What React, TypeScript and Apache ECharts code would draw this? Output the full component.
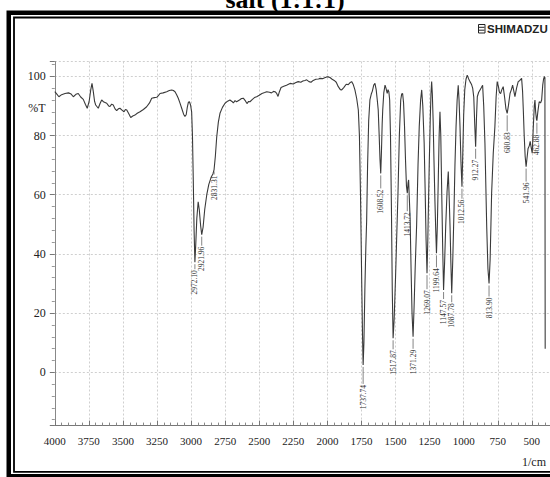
import { useEffect, useRef } from "react";
import * as echarts from "echarts";

// IR spectrum: wavenumber (1/cm) and transmittance (%T)
const wavenumbers = [
  4000, 3985, 3970, 3950, 3925, 3900, 3880, 3864, 3845, 3828, 3810, 3791, 3775, 3762, 3748, 3736, 3727, 3718, 3708, 3700,
  3681, 3668, 3656, 3640, 3619, 3605, 3595, 3583, 3571, 3558, 3546, 3534, 3522, 3507, 3492, 3482, 3472, 3458, 3443, 3428,
  3412, 3395, 3375, 3350, 3326, 3305, 3289, 3270, 3252, 3240, 3228, 3205, 3179, 3160, 3142, 3130, 3118, 3106, 3094, 3082,
  3069, 3055, 3045, 3036, 3028, 3020, 3012, 3004, 2996, 2990, 2984, 2978, 2972.1, 2966, 2958, 2948, 2940, 2930, 2921.96, 2912,
  2900, 2885, 2870, 2852, 2840, 2831.31, 2822, 2812, 2800, 2788, 2770, 2751, 2732, 2715, 2700, 2690, 2678, 2666, 2645, 2630,
  2617, 2600, 2590, 2578, 2568, 2550, 2535, 2519, 2500, 2480, 2460, 2445, 2425, 2410, 2395, 2384, 2372, 2362, 2352, 2340,
  2320, 2300, 2274, 2250, 2235, 2214, 2195, 2180, 2165, 2152, 2135, 2120, 2104, 2085, 2065, 2054, 2035, 2020, 2005, 1995,
  1981, 1965, 1950, 1935, 1920, 1905, 1895, 1880, 1862, 1847, 1835, 1822, 1810, 1798, 1785, 1773, 1765, 1757, 1748, 1742,
  1737.74, 1732, 1725, 1718, 1712, 1705, 1697, 1688, 1678, 1670, 1660, 1651, 1642, 1634, 1627, 1620, 1614, 1608.52, 1603, 1598,
  1594, 1586, 1577, 1570, 1561, 1555, 1549, 1543, 1537, 1530, 1524, 1517.87, 1510, 1500, 1490, 1482, 1472, 1462, 1455, 1448,
  1441, 1434, 1427, 1420, 1413.72, 1408, 1404, 1399, 1393, 1386, 1379, 1371.29, 1364, 1356, 1345, 1335, 1326, 1316, 1308, 1300,
  1290, 1282, 1276, 1269.07, 1263, 1257, 1252, 1245, 1240, 1235, 1230, 1224, 1218, 1211, 1205, 1199.64, 1193, 1186, 1180, 1174,
  1168, 1161, 1154, 1147.57, 1140, 1132, 1122, 1113, 1107, 1100, 1094, 1087.78, 1080, 1071, 1064, 1056, 1048, 1040, 1034, 1027,
  1020, 1012.56, 1006, 1000, 992, 983, 974, 964, 954, 942, 934, 926, 919, 912.27, 906, 900, 890, 880, 870, 861,
  853, 844, 837, 831, 822, 813.9, 806, 800, 795, 783, 771, 762, 754, 745, 737, 729, 720, 710, 700, 690,
  680.83, 672, 660, 650, 641, 632, 624, 612, 600, 588, 575, 568, 562, 556, 549, 541.96, 535, 528, 519, 512,
  505, 497, 490, 482, 477, 472, 466, 462.88, 456, 446, 436, 428, 420, 414, 408, 404, 402,
];
const transmittance = [
  94.8, 94.0, 93.1, 93.8, 94.2, 94.4, 94.0, 93.1, 93.9, 94.2, 93.0, 92.2, 90.5, 89.2, 91.5, 95.5, 97.6, 95.0, 91.5, 90.3,
  89.2, 90.8, 92.0, 91.3, 90.9, 90.0, 89.8, 90.6, 90.3, 89.0, 88.4, 89.0, 89.2, 88.6, 88.0, 88.8, 88.6, 87.4, 86.1, 86.6,
  86.9, 87.5, 88.0, 88.8, 89.7, 91.0, 92.6, 92.8, 92.9, 93.5, 94.2, 94.4, 94.8, 95.2, 95.4, 95.2, 94.8, 93.8, 92.6, 91.0,
  89.2, 87.2, 86.4, 87.0, 89.5, 91.2, 91.4, 90.3, 88.0, 80.0, 65.0, 48.0, 37.2, 43.0, 52.0, 57.6, 55.0, 49.5, 46.5, 49.0,
  55.0, 60.0, 63.5, 66.0, 67.0, 68.5, 73.0, 79.5, 84.5, 87.5, 89.5, 90.9, 91.6, 92.0, 91.5, 91.0, 91.8, 91.4, 92.0, 92.5,
  92.6, 91.6, 90.8, 91.5, 91.4, 92.2, 92.8, 93.1, 93.6, 94.2, 94.5, 94.8, 94.6, 94.4, 94.9, 94.8, 94.2, 93.2, 94.8, 96.2,
  96.6, 97.0, 97.6, 97.4, 97.8, 98.2, 98.0, 98.4, 98.6, 98.8, 98.2, 98.0, 98.6, 99.0, 99.1, 99.3, 99.2, 99.5, 99.8, 99.8,
  99.6, 99.0, 98.6, 98.0, 96.5, 95.5, 95.4, 96.2, 97.3, 97.2, 97.8, 98.2, 97.2, 95.4, 92.5, 88.6, 80.0, 60.0, 30.0, 12.0,
  2.5, 10.0, 28.0, 42.0, 51.0, 70.0, 85.0, 92.0, 94.0, 95.0, 97.0, 97.6, 95.5, 92.0, 88.6, 80.0, 72.0, 67.2, 75.0, 84.0,
  88.6, 94.5, 97.0, 96.0, 94.2, 95.5, 94.8, 92.0, 80.0, 55.0, 28.0, 11.5, 18.0, 32.0, 48.0, 60.5, 80.0, 92.0, 94.0, 94.2,
  91.0, 83.0, 72.0, 63.0, 60.5, 64.0, 65.0, 59.0, 52.0, 35.0, 20.0, 12.0, 22.0, 35.0, 50.0, 70.0, 83.0, 92.0, 95.4, 90.0,
  77.5, 60.0, 45.0, 33.5, 45.0, 60.0, 71.7, 86.0, 94.0, 98.2, 94.0, 85.0, 71.7, 58.0, 48.0, 40.2, 50.0, 66.0, 80.0, 88.0,
  80.0, 60.5, 42.0, 27.8, 37.0, 49.2, 61.0, 67.8, 60.0, 49.2, 37.0, 26.7, 38.0, 54.8, 70.0, 83.0, 92.0, 97.0, 92.0, 83.0,
  71.0, 62.7, 75.0, 87.0, 95.5, 99.0, 100.4, 99.2, 98.2, 97.2, 96.0, 93.0, 84.0, 76.2, 86.0, 93.1, 94.6, 95.4, 96.2, 97.0,
  90.0, 77.4, 62.0, 49.2, 35.0, 30.0, 38.0, 50.0, 60.5, 74.0, 83.0, 93.0, 98.2, 96.5, 94.5, 94.2, 95.5, 96.5, 93.0, 89.0,
  87.5, 90.0, 94.2, 95.5, 97.0, 95.0, 93.1, 96.0, 98.2, 98.6, 99.3, 95.0, 88.0, 80.0, 73.0, 69.5, 72.5, 75.5, 76.5, 78.0,
  76.0, 74.0, 82.0, 90.0, 92.0, 88.0, 85.5, 85.0, 88.0, 91.4, 91.0, 92.0, 97.0, 99.0, 99.9, 99.5, 8.0,
];

// labelled peaks
const peakWavenumbers = [2972.1, 2921.96, 2831.31, 1737.74, 1608.52, 1517.87, 1413.72, 1371.29, 1269.07, 1199.64, 1147.57, 1087.78, 1012.56, 912.27, 813.9, 680.83, 541.96, 462.88];
const peakTransmittance = [37.2, 46.5, 68.5, 2.5, 67.2, 11.5, 60.5, 12.0, 33.5, 40.2, 27.8, 26.7, 62.7, 76.2, 30.0, 87.5, 69.5, 85.0];
const peakLabels = ["2972.10", "2921.96", "2831.31", "1737.74", "1608.52", "1517.87", "1413.72", "1371.29", "1269.07", "1199.64", "1147.57", "1087.78", "1012.56", "912.27", "813.90", "680.83", "541.96", "462.88"];
// layout: pixel gap between each minimum and its label
const peakLabelGaps = [8, 12, 6, 20, 16, 12, 19, 13, 17, 15, 10, 10, 13, 13, 14, 19, 16, 14];

const xTickLabels = [4000, 3750, 3500, 3250, 3000, 2750, 2500, 2250, 2000, 1750, 1500, 1250, 1000, 750, 500];
const yTickLabels = [0, 20, 40, 60, 80, 100];

const SERIF = '"Liberation Serif", "DejaVu Serif", serif';

export default function App() {
  const ref = useRef<HTMLDivElement>(null);

  useEffect(() => {
    if (!ref.current) return;
    const chart = echarts.init(ref.current, undefined, { renderer: "svg" });

    const spectrum = wavenumbers.map((w, i) => [w, transmittance[i]]);
    const peaks = peakWavenumbers.map((w, i) => [w, peakTransmittance[i], peakLabelGaps[i], i]);

    chart.setOption({
      animation: false,
      backgroundColor: "#ffffff",
      grid: {
        left: 54.8,
        top: 61.5,
        width: 511.1,
        height: 364.1,
        containLabel: false,
        outerBoundsMode: "none",
      },
      xAxis: {
        type: "value",
        inverse: true,
        min: 250,
        max: 4000,
        interval: 250,
        axisLine: { onZero: false, lineStyle: { color: "#777", width: 1 } },
        axisTick: { inside: true, length: 5, lineStyle: { color: "#777" } },
        minorTick: { show: true, splitNumber: 5, length: 3, lineStyle: { color: "#888" } },
        splitLine: { show: true, lineStyle: { color: "#cfcfcf", type: [2, 2], width: 1 } },
        axisLabel: {
          margin: 10,
          color: "#222",
          fontFamily: SERIF,
          fontSize: 11,
          formatter: (v: number) => (xTickLabels.includes(v) ? String(v) : ""),
        },
      },
      yAxis: {
        type: "value",
        min: -18,
        max: 105,
        splitNumber: 6,
        axisLine: { show: true, onZero: false, lineStyle: { color: "#888", width: 1 } },
        axisTick: { show: true, inside: false, length: 5, lineStyle: { color: "#777" } },
        minorTick: { show: true, splitNumber: 5, length: 3, lineStyle: { color: "#999" } },
        splitLine: { show: true, lineStyle: { color: "#cfcfcf", type: [2, 2], width: 1 } },
        axisLabel: {
          margin: 9,
          color: "#222",
          fontFamily: SERIF,
          fontSize: 12,
          formatter: (v: number) => (yTickLabels.includes(v) ? String(v) : ""),
        },
      },
      series: [
        {
          type: "line",
          data: spectrum,
          showSymbol: false,
          symbol: "none",
          silent: true,
          lineStyle: { color: "#3a3a3a", width: 1.1 },
          z: 3,
        },
        {
          type: "custom",
          data: peaks,
          silent: true,
          z: 4,
          renderItem: (_params: any, api: any) => {
            const p = api.coord([api.value(0), api.value(1)]);
            const gap = api.value(2) as number;
            const idx = api.value(3) as number;
            return {
              type: "group",
              children: [
                {
                  type: "line",
                  shape: { x1: p[0], y1: p[1] + 2, x2: p[0], y2: p[1] + gap - 1 },
                  style: { stroke: "#666", lineWidth: 0.8 },
                },
                {
                  type: "text",
                  x: p[0],
                  y: p[1] + gap,
                  rotation: Math.PI / 2,
                  style: {
                    text: peakLabels[idx],
                    align: "right",
                    verticalAlign: "middle",
                    font: `7.5px ${SERIF}`,
                    fill: "#333",
                  },
                },
              ],
            };
          },
        },
      ],
      graphic: [
        {
          type: "text",
          x: 285,
          y: -1,
          style: {
            text: "salt (1:1:1)",
            font: `bold 26px ${SERIF}`,
            fill: "#000",
            align: "center",
            verticalAlign: "middle",
          },
        },
        {
          type: "rect",
          shape: { x: 8.75, y: 12.85, width: 600, height: 463.5 },
          style: { fill: "none", stroke: "#000", lineWidth: 4.5 },
        },
        {
          type: "rect",
          shape: { x: 14, y: 17.5, width: 600, height: 454.3 },
          style: { fill: "none", stroke: "#000", lineWidth: 1.8 },
        },
        {
          type: "rect",
          shape: { x: 478.5, y: 24.5, width: 6.5, height: 8.5 },
          style: { fill: "none", stroke: "#222", lineWidth: 1 },
        },
        {
          type: "line",
          shape: { x1: 479, y1: 27.3, x2: 484.5, y2: 27.3 },
          style: { stroke: "#222", lineWidth: 1 },
        },
        {
          type: "line",
          shape: { x1: 479, y1: 30.2, x2: 484.5, y2: 30.2 },
          style: { stroke: "#222", lineWidth: 1 },
        },
        {
          type: "text",
          x: 487,
          y: 29,
          style: {
            text: "SHIMADZU",
            font: 'bold 11.5px "Liberation Sans", Arial, sans-serif',
            fill: "#222",
            align: "left",
            verticalAlign: "middle",
          },
        },
        {
          type: "text",
          x: 45.5,
          y: 107.5,
          style: {
            text: "%T",
            font: `12px ${SERIF}`,
            fill: "#222",
            align: "right",
            verticalAlign: "middle",
          },
        },
        {
          type: "text",
          x: 546,
          y: 462,
          style: {
            text: "1/cm",
            font: `12px ${SERIF}`,
            fill: "#222",
            align: "right",
            verticalAlign: "middle",
          },
        },
      ],
    });

    return () => {
      chart.dispose();
    };
  }, []);

  return (
    <div
      ref={ref}
      style={{ position: "absolute", left: 0, top: 0, width: 550, height: 477, background: "#fff" }}
    />
  );
}
